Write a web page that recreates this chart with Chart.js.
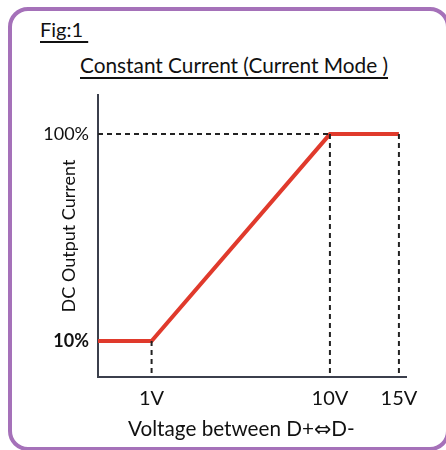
<!DOCTYPE html>
<html>
<head>
<meta charset="utf-8">
<script src="https://cdn.jsdelivr.net/npm/chart.js@4.4.1/dist/chart.umd.min.js"></script>
<style>
    html, body { margin: 0; padding: 0; background: #fff; overflow: hidden; }
    body { width: 446px; height: 450px; position: relative; font-family: Lato, "DejaVu Sans", sans-serif; color: #111; }
    .frame {
        position: absolute; left: 8px; top: 7px; width: 442px; height: 444px;
        box-sizing: border-box; border: 4px solid #a571b9; border-radius: 20px;
    }
    .fig, .titre {
        position: absolute; white-space: pre; text-decoration: underline;
        text-decoration-thickness: 2px; text-underline-offset: 4px; line-height: 1;
    }
    .fig { left: 40px; top: 19px; font-size: 20px; }
    .titre { left: 80px; top: 55px; font-size: 20.8px; }
    #graph { position: absolute; left: 0; top: 0; }
</style>
</head>
<body>
<div class="frame"></div>
<div class="fig">Fig:1 </div>
<div class="titre">Constant Current (Current Mode )</div>
<canvas id="graph" width="446" height="450"></canvas>
<script>
// Données du graphique
const tensions = [0, 1, 10, 15];        // V
const courants = [10, 10, 100, 100];    // %
const ticksX = [1, 10, 15];
const ticksY = [10, 100];
const yMin = -5.6;
const yMax = 117;

// Échelle schématique : les tensions ne sont pas à l'échelle sur le dessin
const noeuds = [[0, 0], [1, 0.174], [10, 0.753], [15, 0.977], [15.4, 1]];

class EchelleSchema extends Chart.LinearScale {
    getPixelForValue(value) {
        if (value === null || value === undefined) return NaN;
        for (let i = 1; i < noeuds.length; i++) {
            const [v0, f0] = noeuds[i - 1];
            const [v1, f1] = noeuds[i];
            if (value <= v1 || i === noeuds.length - 1) {
                return this.getPixelForDecimal(f0 + (value - v0) / (v1 - v0) * (f1 - f0));
            }
        }
    }
    getValueForPixel(pixel) {
        const f = this.getDecimalForPixel(pixel);
        for (let i = 1; i < noeuds.length; i++) {
            const [v0, f0] = noeuds[i - 1];
            const [v1, f1] = noeuds[i];
            if (f <= f1 || i === noeuds.length - 1) {
                return v0 + (f - f0) / (f1 - f0) * (v1 - v0);
            }
        }
    }
}
EchelleSchema.id = 'schema';
EchelleSchema.defaults = Chart.LinearScale.defaults;
Chart.register(EchelleSchema);

const police = 'Lato, "DejaVu Sans", sans-serif';
const tirets = { borderColor: '#222', borderWidth: 2, borderDash: [5, 4], pointRadius: 0, fill: false };

// Lignes pointillées de repère, construites à partir des données
const reperes = [];
for (let i = 1; i < tensions.length; i++) {
    reperes.push({
        ...tirets,
        data: [{ x: tensions[i], y: courants[i] }, { x: tensions[i], y: yMin }]
    });
}
reperes.push({
    ...tirets,
    data: [{ x: noeuds[0][0], y: courants[2] }, { x: tensions[2], y: courants[2] }]
});

const ctx = document.getElementById('graph').getContext('2d');
new Chart(ctx, {
    type: 'line',
    data: {
        datasets: [
            ...reperes,
            {
                data: tensions.map((v, i) => ({ x: v, y: courants[i] })),
                borderColor: '#e03a2c',
                borderWidth: 4,
                pointRadius: 0,
                fill: false
            }
        ]
    },
    options: {
        responsive: false,
        animation: false,
        events: [],
        layout: { padding: { top: 95, right: 40, left: 0, bottom: 0 } },
        plugins: { legend: { display: false }, tooltip: { enabled: false } },
        scales: {
            x: {
                type: 'schema',
                min: noeuds[0][0],
                max: noeuds[noeuds.length - 1][0],
                grid: { display: false, drawTicks: false },
                border: { color: '#3b3f4c', width: 2 },
                afterBuildTicks: scale => { scale.ticks = ticksX.map(v => ({ value: v })); },
                afterFit: scale => { scale.height = 73; },
                ticks: {
                    color: '#111',
                    padding: 10,
                    font: { family: police, size: 20 },
                    callback: v => v + 'V'
                },
                title: {
                    display: true,
                    // espaces finales : le titre est décalé vers la gauche comme sur la figure
                    text: 'Voltage between D+⇔D-    ',
                    color: '#111',
                    font: { family: police, size: 20.7 },
                    padding: { top: 0, bottom: 8 }
                }
            },
            y: {
                type: 'linear',
                min: yMin,
                max: yMax,
                grid: { display: false, drawTicks: false },
                border: { color: '#3b3f4c', width: 2 },
                afterBuildTicks: scale => { scale.ticks = ticksY.map(v => ({ value: v })); },
                afterFit: scale => { scale.width = 98; },
                ticks: {
                    color: '#111',
                    padding: 9,
                    font: c => ({ family: police, size: 18, weight: c.tick && c.tick.value === 10 ? 'bold' : 'normal' }),
                    callback: v => v + '%'
                },
                title: {
                    display: true,
                    text: 'DC Output Current',
                    color: '#111',
                    font: { family: police, size: 18 },
                    padding: { top: 58, bottom: 0 }
                }
            }
        }
    }
});
</script>
</body>
</html>
